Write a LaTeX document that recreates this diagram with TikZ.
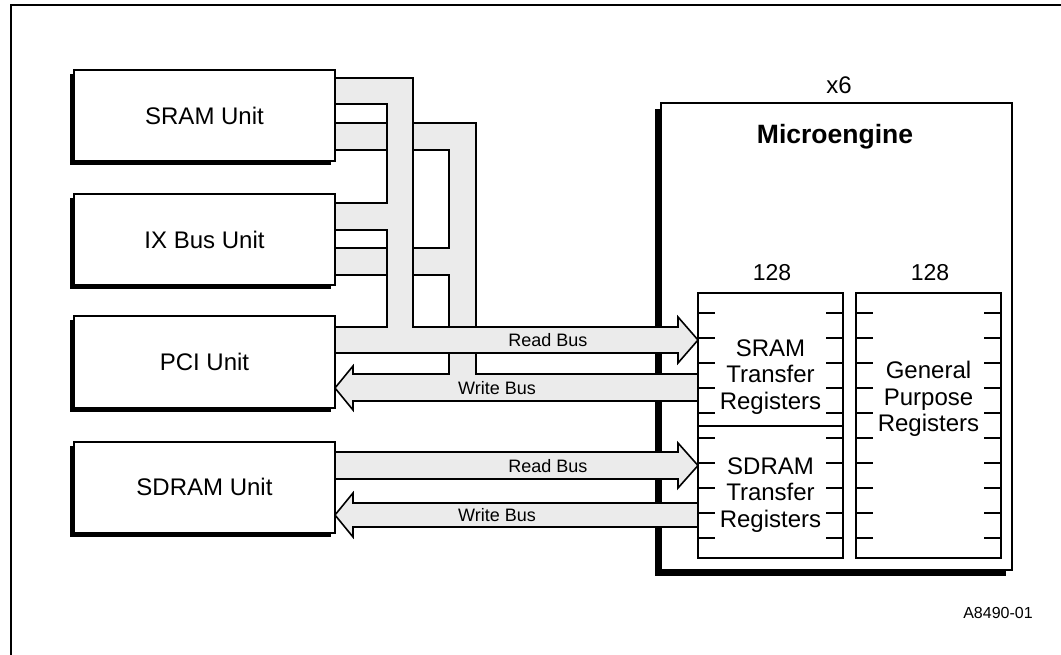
\documentclass[tikz,border=0pt]{standalone}
\usepackage{fontspec}
\setmainfont{Liberation Sans}
\usetikzlibrary{shadows}
\pgfdeclarelayer{engine}
\pgfdeclarelayer{buses}
\pgfsetlayers{engine,buses,main}
\definecolor{busgray}{HTML}{EBEBEB}

\begin{document}
\begin{tikzpicture}[x=1pt,y=-1pt,
  every node/.style={inner sep=0pt, outer sep=0pt},
  unitbox/.style={draw, line width=2pt, fill=white, minimum width=261pt, minimum height=91pt,
    font=\fontsize{24}{28}\selectfont,
    drop shadow={shadow xshift=-4pt, shadow yshift=-4pt, fill=black, opacity=1}},
  enginebox/.style={draw, line width=2pt, fill=white, minimum width=351pt, minimum height=467pt,
    drop shadow={shadow xshift=-6pt, shadow yshift=-6pt, fill=black, opacity=1}},
  regbox/.style={draw, line width=2pt, fill=white, minimum width=145pt, minimum height=265pt},
  bus/.style={draw, line width=1.6pt, fill=busgray, line join=miter},
  regtick/.style={line width=1.3pt},
  lbl/.style={font=\fontsize{24}{26.5}\selectfont, align=center},
  buslbl/.style={font=\fontsize{18}{20}\selectfont},
]
\useasboundingbox (0,0) rectangle (1061,655);

% page frame
\draw[line width=2pt] (11,655) -- (11,5) -- (1061,5);

% microengine outline with shadow
\begin{pgfonlayer}{engine}
  \node[enginebox] (engine) at (836.5,336.5) {};
\end{pgfonlayer}
\node[font=\fontsize{24}{28}\selectfont] (count) at (839,85) {x6};
\node[font=\fontsize{26.5}{30}\selectfont\bfseries] (title) at (835,137) {Microengine};

% shared buses
\begin{pgfonlayer}{buses}
  % write bus (runs underneath the read bus)
  \path[bus] (335,123) -- (476,123) -- (476,374) -- (698,374) -- (698,401) -- (353,401)
    -- (353,410) -- (335,388) -- (353,366) -- (353,374) -- (449,374) -- (449,275)
    -- (335,275) -- (335,248) -- (449,248) -- (449,150) -- (335,150) -- cycle;
  % read bus
  \path[bus] (335,78) -- (413,78) -- (413,327) -- (678,327) -- (678,317) -- (698,340)
    -- (678,363) -- (678,353) -- (335,353) -- (335,327) -- (387,327) -- (387,230)
    -- (335,230) -- (335,203) -- (387,203) -- (387,104) -- (335,104) -- cycle;
  % SDRAM read bus
  \path[bus] (335,452) -- (678,452) -- (678,443) -- (698,465.5) -- (678,488) -- (678,479)
    -- (335,479) -- cycle;
  % SDRAM write bus
  \path[bus] (698,503) -- (698,527) -- (353,527) -- (353,537) -- (335,515) -- (353,493)
    -- (353,503) -- cycle;
\end{pgfonlayer}

\node[buslbl] (rb1) at (548,340) {Read Bus};
\node[buslbl] (wb1) at (497,388) {Write Bus};
\node[buslbl] (rb2) at (548,466) {Read Bus};
\node[buslbl] (wb2) at (497,515) {Write Bus};

% units
\node[unitbox] (sram)  at (204.5,115.5) {SRAM Unit};
\node[unitbox] (ixbus) at (204.5,239.5) {IX Bus Unit};
\node[unitbox] (pci)   at (204.5,362)   {PCI Unit};
\node[unitbox] (sdram) at (204.5,487)   {SDRAM Unit};

% register files
\node[regbox] (xfer) at (770.5,425.5) {};
\node[regbox] (gpr)  at (928.5,425.5) {};
\draw[line width=2pt] (xfer.west |- 0,426) -- (xfer.east |- 0,426);
\foreach \k in {0,...,9}{
  \pgfmathsetmacro\ty{313+25*\k}
  \draw[regtick] (xfer.west |- 0,\ty) -- ++(17,0);
  \draw[regtick] (xfer.east |- 0,\ty) -- ++(-17,0);
  \draw[regtick] (gpr.west |- 0,\ty) -- ++(17,0);
  \draw[regtick] (gpr.east |- 0,\ty) -- ++(-17,0);
}
\node[font=\fontsize{23}{26}\selectfont] (n1) at (772,273) {128};
\node[font=\fontsize{23}{26}\selectfont] (n2) at (930,273) {128};
\node[lbl] (sramx)  at (770.5,377) {SRAM\\Transfer\\Registers};
\node[lbl] (sdramx) at (770.5,495) {SDRAM\\Transfer\\Registers};
\node[lbl] (gprl)   at (928.5,399) {General\\Purpose\\Registers};

\node[font=\fontsize{16}{18}\selectfont] (fig) at (998,613) {A8490-01};
\end{tikzpicture}
\end{document}
